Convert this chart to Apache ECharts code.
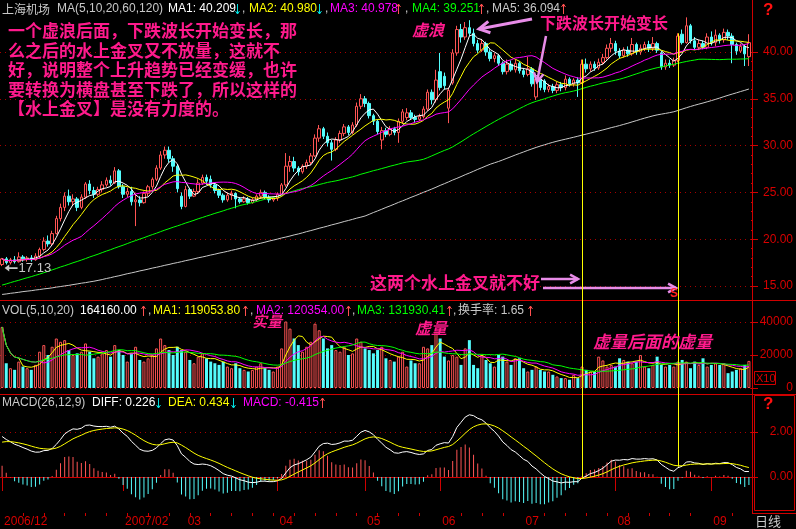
<!DOCTYPE html>
<html><head><meta charset="utf-8">
<script src="https://cdn.jsdelivr.net/npm/echarts@6/dist/echarts.min.js"></script>
<style>html,body{margin:0;padding:0;background:#000;}#c{width:796px;height:529px;}</style>
</head><body><div id="c"></div>
<script>
// ---------------- DATA ----------------
const monthLabels = ['2006/12','2007/02','03','04','05','06','07','08','09'];
const monthBarCounts = [29,15,22,21,18,20,22,23,10];
// [open, close, low, high]
const candles = [
[17.3,17.9,17.13,18.0],[17.9,17.5,17.3,18.1],[17.5,17.8,17.3,18.0],[17.8,17.6,17.4,18.2],[17.6,18.1,17.5,18.6],
[18.1,17.9,17.6,18.3],[17.9,18.0,17.6,18.2],[18.0,17.8,17.6,18.3],[17.8,18.2,17.7,18.5],[18.2,18.9,18.0,19.1],
[18.9,19.8,18.7,20.2],[19.8,19.5,19.2,20.4],[19.5,20.6,19.3,20.9],[20.6,22.2,20.5,22.5],[22.2,23.4,21.9,23.8],
[23.4,24.6,23.0,25.0],[24.6,24.0,23.6,25.3],[24.0,24.3,23.6,24.8],[24.3,23.4,23.0,24.5],[23.4,24.5,23.2,24.8],
[24.5,25.9,24.3,26.1],[25.9,25.2,24.8,26.3],[25.2,24.8,24.4,25.6],[24.8,25.3,24.6,25.6],[25.3,25.8,25.0,26.2],
[25.8,26.3,25.6,26.6],[26.3,26.0,25.7,26.8],[26.0,27.3,25.9,27.7],[27.3,25.6,25.4,27.5],[25.6,24.8,24.4,25.9],
[24.8,25.1,24.5,25.5],[25.1,24.0,23.6,25.6],[24.0,24.2,21.4,24.8],[24.2,23.9,23.5,24.6],[23.9,24.9,23.8,25.1],
[24.9,25.6,24.6,25.8],[25.6,26.4,25.3,26.6],[26.4,27.6,26.2,27.9],[27.6,29.0,27.4,29.4],[29.0,29.5,28.6,29.9],
[29.5,28.6,28.2,29.9],[28.6,27.8,27.2,28.9],[27.8,25.4,25.0,28.0],[24.6,23.5,23.2,25.0],[23.5,25.3,23.4,25.7],
[25.3,24.6,24.3,25.5],[24.6,25.1,24.5,25.4],[25.1,26.0,24.9,26.4],[26.0,26.6,25.8,26.9],[26.6,26.2,25.8,26.9],
[26.4,25.8,25.5,26.8],[25.8,25.2,24.9,26.0],[25.2,24.7,24.4,25.4],[24.7,24.2,23.9,24.9],[24.2,24.7,24.0,25.0],
[24.7,24.9,24.2,25.2],[24.9,24.3,23.3,25.0],[24.3,24.0,23.8,24.5],[24.0,24.3,23.9,24.6],[24.3,23.9,23.7,24.5],
[23.9,24.2,23.8,24.4],[24.2,24.6,24.0,24.8],[24.6,25.0,24.3,25.3],[25.0,24.5,24.3,25.2],[24.5,24.2,23.9,24.7],
[24.2,24.4,24.0,24.6],[24.4,24.8,24.1,25.0],[24.8,25.8,24.7,26.0],[25.8,27.8,25.6,29.2],[27.8,28.3,27.2,28.9],
[28.3,27.6,27.2,28.8],[27.6,27.2,26.8,27.8],[27.2,27.8,27.0,28.0],[27.8,28.2,27.5,28.5],[28.2,28.9,27.9,29.2],
[28.9,30.8,28.8,31.2],[30.8,31.8,30.4,32.2],[31.8,31.0,30.7,32.0],[31.0,30.3,29.9,31.4],[30.3,29.6,28.4,30.6],
[29.6,30.6,29.4,30.9],[30.6,31.3,30.3,31.6],[31.3,32.0,31.0,32.3],[32.0,31.4,31.1,32.2],[31.4,32.2,31.2,32.5],
[32.2,34.2,32.0,34.6],[34.2,35.0,33.9,35.5],[35.0,34.5,34.1,35.3],[34.5,33.2,32.9,34.7],[33.2,32.6,32.2,33.4],
[32.6,31.5,31.2,32.8],[30.6,31.6,29.6,32.0],[31.6,31.2,30.9,31.9],[31.2,31.8,31.0,32.1],[31.8,31.4,31.1,32.0],
[31.4,32.6,30.3,32.9],[32.6,33.6,32.3,33.9],[33.0,33.5,32.7,34.0],[33.5,33.0,32.8,33.8],[33.0,32.8,32.5,33.3],
[32.8,33.1,32.6,33.4],[33.1,33.9,32.9,34.2],[33.9,35.7,33.7,36.0],[35.7,34.9,34.4,36.0],[34.9,37.0,34.6,38.1],
[37.9,36.2,35.9,39.9],[37.4,36.4,36.0,37.8],[34.0,35.9,32.4,36.2],[36.7,39.9,36.5,40.3],[39.9,42.4,39.6,42.8],
[42.4,41.6,41.0,43.0],[41.6,42.6,41.3,43.2],[42.6,42.0,41.7,43.4],[42.0,40.9,40.6,42.5],[40.9,40.2,39.9,41.3],
[40.2,40.9,40.0,41.4],[40.9,40.0,39.6,41.1],[40.0,39.3,39.0,40.3],[39.3,39.6,38.9,39.9],[39.6,38.8,38.5,39.8],
[38.8,37.9,37.6,39.0],[37.9,38.7,37.6,39.2],[38.7,38.1,37.9,39.1],[38.1,38.8,37.8,39.2],[38.8,38.0,37.7,39.0],
[38.0,37.6,37.3,38.3],[37.6,38.2,37.4,39.5],[38.2,36.6,36.3,38.4],[35.2,37.1,34.9,37.4],[37.1,36.2,35.9,37.3],
[36.9,36.0,35.7,37.1],[36.0,36.3,35.7,36.6],[36.3,35.9,35.6,36.6],[35.9,36.5,35.6,36.8],[36.5,36.2,35.8,36.8],
[36.2,37.1,35.9,37.5],[37.1,36.6,36.3,37.3],[36.6,37.0,36.3,37.2],[37.0,36.7,35.2,37.3],[36.7,38.7,36.6,39.2],
[38.7,38.2,37.8,39.3],[38.2,38.7,37.9,39.0],[38.7,38.3,38.0,39.0],[38.3,38.9,38.1,39.3],[38.9,39.4,38.7,39.8],
[39.4,40.4,39.2,40.8],[40.4,40.9,40.0,41.5],[40.9,40.1,39.7,41.2],[40.1,39.6,39.3,40.4],[39.6,40.2,39.4,40.5],
[40.2,39.8,39.5,40.6],[39.8,40.8,39.6,41.5],[40.8,40.0,39.7,41.0],[40.0,40.4,39.7,40.8],[40.4,40.8,40.1,41.1],
[40.8,40.4,40.0,41.2],[40.4,40.9,40.1,41.6],[40.9,40.2,39.9,41.1],[39.9,38.4,38.1,40.1],[38.4,38.8,38.1,39.2],
[38.8,38.6,38.3,39.2],[38.6,39.1,38.4,39.4],[39.1,41.7,38.9,42.0],[41.9,41.0,40.8,42.4],[41.0,42.8,40.9,43.7],
[42.8,41.2,40.9,43.0],[41.2,40.5,40.2,41.6],[40.5,40.9,40.2,41.3],[40.9,40.5,40.3,41.2],[40.5,41.6,40.3,42.0],
[41.6,41.0,40.7,42.2],[41.0,41.8,40.6,42.4],[41.8,41.3,40.9,42.0],[41.3,42.1,41.0,42.5],[42.1,41.7,41.3,42.4],
[41.7,40.8,38.8,42.0],[40.8,40.1,39.7,41.0],[40.1,40.6,39.9,40.9],[40.6,39.8,38.5,40.8],[39.5,41.0,38.5,41.9]
];
const volumes = [
370000,150000,120000,110000,160000,130000,120000,110000,140000,
220000,260000,200000,250000,300000,280000,290000,
230000,200000,210000,220000,270000,220000,180000,190000,210000,230000,190000,260000,230000,
200000,160000,210000,250000,170000,160000,180000,200000,240000,300000,260000,230000,200000,250000,230000,220000,
170000,150000,190000,210000,180000,160000,150000,140000,160000,130000,120000,150000,120000,110000,100000,110000,130000,150000,120000,110000,100000,130000,
240000,420000,360000,300000,260000,220000,250000,280000,390000,350000,300000,240000,260000,
230000,220000,250000,200000,210000,300000,280000,240000,230000,210000,230000,250000,180000,170000,160000,
190000,220000,130000,167000,150000,150000,250000,240000,260000,340000,
300000,190000,167000,200000,190000,140000,240000,290000,140000,120000,
200000,170000,150000,130000,200000,190000,160000,140000,180000,180000,
120000,100000,110000,130000,110000,100000,100000,80000,70000,60000,
60000,50000,80000,60000,130000,110000,100000,100000,190000,167000,
130000,140000,130000,180000,170000,160000,150000,160000,200000,130000,
120000,140000,190000,140000,130000,140000,130000,160000,170000,160000,
120000,160000,140000,180000,130000,140000,150000,140000,150000,90000,
100000,110000,120000,140000,164160
];
// MA60 / MA120 values for bars before a full window exists
const ma60Lead = [
15.10,15.22,15.36,15.49,15.61,15.75,15.88,16.00,16.14,16.27,
16.42,16.56,16.72,16.87,17.03,17.17,17.32,17.48,17.62,17.77,
17.93,18.10,18.25,18.40,18.57,18.73,18.88,19.05,19.21,19.36,
19.53,19.70,19.85,20.01,20.16,20.33,20.49,20.64,20.81,20.97,
21.12,21.28,21.42,21.57,21.73,21.87,22.02,22.18,22.32,22.47,
22.61,22.76,22.89,23.03,23.18,23.31,23.45,23.60,23.70];
const ma120Lead = [
14.10,14.15,14.22,14.27,14.33,14.40,14.45,14.50,14.57,14.62,14.69,14.74,
14.80,14.88,14.94,15.01,15.07,15.15,15.22,15.30,15.36,15.44,15.51,15.60,
15.69,15.80,15.89,16.00,16.09,16.20,16.31,16.40,16.50,16.61,16.70,16.80,16.91,17.00,17.10,17.21,
17.30,17.41,17.50,17.60,17.71,17.80,17.90,18.01,18.10,18.20,18.31,18.40,18.51,18.60,18.70,18.81,
18.91,19.02,19.14,19.24,19.35,19.47,19.57,19.68,19.80,19.90,20.01,20.13,20.23,20.34,20.46,20.56,
20.68,20.81,20.92,21.04,21.17,21.28,21.40,21.53,21.64,21.76,21.89,22.00,22.12,22.25,22.36,22.48,
22.66,22.85,23.02,23.20,23.39,23.56,23.74,23.93,24.10,24.28,24.47,24.64,24.82,25.01,25.18,25.36,
25.55,25.75,25.93,26.12,26.32,26.50,26.69,26.89,27.07,27.26,27.46,27.64,27.83,28.01,28.16];
const macdSeed = {ema12: 17.5, ema26: 15.7, dea: 1.55};
const priceAxis = {min: 15, max: 40, step: 5};
const volAxis = {min: 0, max: 400000, step: 200000};
const macdAxis = {min: 0, max: 2, step: 2};
const crossBars = [139, 162];
const annotationLines = [
 '一个虚浪后面，下跌波长开始变长，那',
 '么之后的水上金叉又不放量，这就不',
 '好，说明整个上升趋势已经变缓，也许',
 '要转换为横盘甚至下跌了，所以这样的',
 '【水上金叉】是没有力度的。'];

// ---------------- DERIVED ----------------
const N = candles.length;
const categories = [], monthOf = [], isMonthStart = [];
monthLabels.forEach((m, mi) => { for (let d = 0; d < monthBarCounts[mi]; d++) { categories.push(m + '#' + (d + 1)); monthOf.push(m); isMonthStart.push(d === 0); } });
const closes = candles.map(c => c[1]);
function movAvg(arr, n, lead) {
  return arr.map((_, i) => {
    if (i < n - 1) { if (lead) return lead[i]; let t = 0; for (let k = 0; k <= i; k++) t += arr[k]; return t / (i + 1); }
    let t = 0; for (let k = i - n + 1; k <= i; k++) t += arr[k]; return t / n;
  });
}
const ma5 = movAvg(closes, 5), ma10 = movAvg(closes, 10), ma20 = movAvg(closes, 20);
const ma60 = movAvg(closes, 60, ma60Lead), ma120 = movAvg(closes, 120, ma120Lead);
const vma5 = movAvg(volumes, 5), vma10 = movAvg(volumes, 10), vma20 = movAvg(volumes, 20);
let e12 = macdSeed.ema12, e26 = macdSeed.ema26, dea = macdSeed.dea;
const diffArr = [], deaArr = [], histArr = [];
closes.forEach((c, i) => {
  if (i > 0) { e12 = e12 * 11 / 13 + c * 2 / 13; e26 = e26 * 25 / 27 + c * 2 / 27; }
  const d = e12 - e26;
  if (i > 0) dea = dea * 0.8 + d * 0.2;
  diffArr.push(d); deaArr.push(dea); histArr.push(2 * (d - dea));
});

// ---------------- STYLE ----------------
const RED = '#d00000', LRED = '#d80000', DOT = '#a80000';
const UP = '#ff5454', DN = '#54fcfc';
const FONT = '"Liberation Sans", Arial, sans-serif';
const CJK = '"Noto Sans CJK SC", sans-serif';

const chart = echarts.init(document.getElementById('c'));
function lineS(data, color, xi, yi, z) {
  return {type: 'line', data: data, xAxisIndex: xi, yAxisIndex: yi, symbol: 'none', showSymbol: false, clip: false, silent: true,
    lineStyle: {color: color, width: 1}, z: z || 3, animation: false};
}
function yAx(gi, ax, fmt, minor) {
  return {type: 'value', gridIndex: gi, position: 'right', min: ax.min, max: ax.max, interval: ax.step, scale: false,
    axisLine: {show: false}, axisTick: {show: true, length: 7, lineStyle: {color: RED}},
    minorTick: {show: !!minor, splitNumber: 5, length: 2, lineStyle: {color: RED}},
    splitLine: {show: true, lineStyle: {color: DOT, type: [1, 4], width: 1}},
    axisLabel: {color: LRED, fontSize: 12, fontFamily: FONT, align: 'right', margin: 42, formatter: fmt}};
}
const hiddenX = gi => ({type: 'category', gridIndex: gi, data: categories, boundaryGap: true, show: false});

const option = {
  backgroundColor: '#000', animation: false,
  grid: [
    {left: 0, right: 44, top: 52, height: 234},
    {left: 0, right: 44, top: 322, height: 66},
    {left: 0, right: 44, top: 432, height: 45}
  ],
  xAxis: [hiddenX(0), hiddenX(1),
    {type: 'category', gridIndex: 2, data: categories, boundaryGap: true, position: 'bottom', offset: 36,
     axisLine: {show: true, lineStyle: {color: RED, width: 1}},
     axisTick: {show: true, alignWithLabel: true, length: 14, interval: (i) => isMonthStart[i], lineStyle: {color: RED}},
     axisLabel: {show: true, interval: (i) => isMonthStart[i], formatter: (v, i) => monthOf[i], align: 'left', margin: 3,
       padding: [0, 0, 0, 2], color: LRED, fontSize: 12, fontFamily: FONT},
     splitLine: {show: false}},
    {type: 'category', gridIndex: 2, data: categories, boundaryGap: true, position: 'bottom', offset: 36,
     axisLine: {show: false}, axisLabel: {show: false}, splitLine: {show: false},
     axisTick: {show: true, alignWithLabel: true, length: 3, interval: (i) => i % 5 === 0 && !isMonthStart[i], lineStyle: {color: RED}}}
  ],
  yAxis: [
    yAx(0, priceAxis, v => v.toFixed(2), true),
    yAx(1, volAxis, v => String(v / 10)),
    yAx(2, macdAxis, v => v.toFixed(2))
  ],
  series: [
    {type: 'candlestick', data: candles, xAxisIndex: 0, yAxisIndex: 0, barWidth: 3, clip: false, silent: true, z: 2,
     itemStyle: {color: '#000', color0: DN, borderColor: UP, borderColor0: DN, borderWidth: 1},
     markPoint: {silent: true, animation: false, data: [
       {type: 'max', valueDim: 'highest', symbol: 'path://M0,0 L5,0.6 L3.3,2.1 L14,8.2 L13.3,9 L2.5,2.9 L1,5 Z',
        symbolSize: [14, 9], symbolOffset: [7, 4.5], itemStyle: {color: '#c8c8c8'},
        label: {show: true, position: 'right', distance: 1, formatter: p => p.value.toFixed(2), color: '#c8c8c8', fontSize: 13, fontFamily: FONT, offset: [0, 1]}},
       {type: 'min', valueDim: 'lowest', symbol: 'path://M0,4 L5,0 L5,3 L14,3 L14,5 L5,5 L5,8 Z',
        symbolSize: [13, 7], symbolOffset: [9, 2], itemStyle: {color: '#c8c8c8'},
        label: {show: true, position: 'right', distance: 1, formatter: p => p.value.toFixed(2), color: '#c8c8c8', fontSize: 13, fontFamily: FONT}}
     ]}},
    lineS(ma5, '#ffffff', 0, 0, 5), lineS(ma10, '#ffff00', 0, 0, 5), lineS(ma20, '#ff00ff', 0, 0, 5),
    lineS(ma60, '#00ff00', 0, 0, 4), lineS(ma120, '#c8c8c8', 0, 0, 4),
    {type: 'bar', xAxisIndex: 1, yAxisIndex: 1, barWidth: 3, silent: true, z: 2,
     data: volumes.map((v, i) => ({value: v, itemStyle: candles[i][1] >= candles[i][0]
       ? {color: '#000', borderColor: UP, borderWidth: 1} : {color: DN, borderWidth: 0}}))},
    lineS(vma5, '#ffff00', 1, 1), lineS(vma10, '#ff00ff', 1, 1), lineS(vma20, '#00ff00', 1, 1),
    {type: 'bar', xAxisIndex: 2, yAxisIndex: 2, barWidth: 1, clip: false, silent: true, z: 2,
     data: histArr.map(v => ({value: v, itemStyle: {color: v >= 0 ? UP : DN}}))},
    lineS(diffArr, '#ffffff', 2, 2), lineS(deaArr, '#ffff00', 2, 2)
  ]
};
chart.setOption(option);

// ---------------- ANNOTATIONS (graphic) ----------------
const G = [];
function txt(text, x, y, color, font, extra) {
  G.push(Object.assign({type: 'text', silent: true, z: 50, x: x, y: y,
    style: {text: text, fill: color, font: font, textAlign: 'left', textVerticalAlign: 'middle', align: 'left', verticalAlign: 'middle'}}, extra || {}));
}
function seg(x1, y1, x2, y2, color, w) {
  G.push({type: 'line', silent: true, z: 40, shape: {x1: x1, y1: y1, x2: x2, y2: y2}, style: {stroke: color, lineWidth: w || 1}});
}
function poly(points, color, w) {
  G.push({type: 'polyline', silent: true, z: 40, shape: {points: points}, style: {stroke: color, lineWidth: w || 1, fill: null}});
}
function arrow(x1, y1, x2, y2, color, w, head) {
  seg(x1, y1, x2, y2, color, w);
  const a = Math.atan2(y2 - y1, x2 - x1), s = 0.5;
  poly([[x2 - head * Math.cos(a - s), y2 - head * Math.sin(a - s)], [x2, y2], [x2 - head * Math.cos(a + s), y2 - head * Math.sin(a + s)]], color, w);
}
function updn(x, yc, up) {
  const c = up ? '#ff5050' : '#00e0e0';
  seg(x + 0.5, yc - 5, x + 0.5, yc + 5, c, 1);
  if (up) poly([[x - 1.5, yc - 2], [x + 0.5, yc - 5], [x + 2.5, yc - 2]], c, 1);
  else poly([[x - 1.5, yc + 2], [x + 0.5, yc + 5], [x + 2.5, yc + 2]], c, 1);
}
const HF = '12px ' + FONT, GREY = '#c8c8c8';
// main header
let hy = 9;
txt('上海机场', 2, hy, GREY, '12px ' + CJK);
txt('MA(5,10,20,60,120)', 57, hy, GREY, HF);
txt('MA1: 40.209', 168, hy, '#ffffff', HF); updn(237, hy, false); txt(',', 242, hy, GREY, HF);
txt('MA2: 40.980', 249, hy, '#ffff00', HF); updn(319, hy, false); txt(',', 325, hy, GREY, HF);
txt('MA3: 40.978', 330, hy, '#ff00ff', HF); updn(398, hy, true); txt(',', 405, hy, GREY, HF);
txt('MA4: 39.251', 412, hy, '#00ff00', HF); updn(481, hy, true); txt(',', 486, hy, GREY, HF);
txt('MA5: 36.094', 492, hy, GREY, HF); updn(563, hy, true);
// volume header
hy = 311;
txt('VOL(5,10,20)', 2, hy, GREY, HF);
txt('164160.00', 80, hy, '#ffffff', HF); updn(143, hy, true); txt(',', 148, hy, GREY, HF);
txt('MA1: 119053.80', 153, hy, '#ffff00', HF); updn(245, hy, true); txt(',', 250, hy, GREY, HF);
txt('MA2: 120354.00', 256, hy, '#ff00ff', HF); updn(348, hy, true); txt(',', 352, hy, GREY, HF);
txt('MA3: 131930.41', 357, hy, '#00ff00', HF); updn(449, hy, true); txt(',', 453, hy, GREY, HF);
txt('换手率: 1.65', 458, hy, GREY, '12px ' + FONT + ',' + CJK); updn(530, hy, true);
// macd header
hy = 403;
txt('MACD(26,12,9)', 2, hy, GREY, HF);
txt('DIFF: 0.226', 92, hy, '#ffffff', HF); updn(158, hy, false);
txt('DEA: 0.434', 168, hy, '#ffff00', HF); updn(233, hy, false);
txt('MACD: -0.415', 243, hy, '#ff00ff', HF); updn(322, hy, true);

// panel frame lines
seg(752.5, 0, 752.5, 513, RED, 1);
seg(0, 300.5, 796, 300.5, RED, 1);
seg(0, 394.5, 796, 394.5, RED, 1);
seg(752, 513.5, 796, 513.5, RED, 1);
G.push({type: 'rect', silent: true, z: 40, shape: {x: 754.5, y: 395.5, width: 40, height: 115}, style: {stroke: RED, fill: null, lineWidth: 1}});
G.push({type: 'rect', silent: true, z: 40, shape: {x: 754.5, y: 371.5, width: 21, height: 13}, style: {stroke: RED, fill: '#000', lineWidth: 1}});
txt('X10', 756, 378.5, LRED, '11px ' + FONT);
txt('?', 763, 10, '#ff1010', 'bold 17px ' + FONT);
txt('?', 763, 404, '#ff1010', 'bold 17px ' + FONT);
txt('日线', 755, 521, GREY, '13px ' + CJK);

// pink commentary
const PINK = '#ff1a8c', VIO = '#e88ce8';
annotationLines.forEach((l, k) => txt(l, 8, 31 + k * 19.5, PINK, 'bold 17px ' + CJK));
txt('虚浪', 412, 30, PINK, 'italic bold 16px ' + CJK);
txt('下跌波长开始变长', 540, 23, PINK, 'bold 16px ' + CJK);
txt('这两个水上金叉就不好', 370, 283, PINK, 'bold 17px ' + CJK);
txt('实量', 252, 321, PINK, 'italic bold 15px ' + CJK);
txt('虚量', 415, 328, PINK, 'italic bold 16px ' + CJK);
txt('虚量后面的虚量', 593, 342, PINK, 'italic bold 17px ' + CJK);
arrow(532, 19, 479, 29, VIO, 3, 12);
arrow(546, 36, 537, 82, VIO, 2.5, 10);
arrow(541, 279, 578, 279, VIO, 2.5, 9);
arrow(543, 288, 676, 288, VIO, 2.5, 9);
txt('S', 670, 294, '#ff2020', 'bold 12px ' + FONT);

// vertical marker lines at the two crosses (via library scales)
crossBars.forEach(idx => {
  const x = Math.round(chart.convertToPixel({xAxisIndex: 0}, idx)) + 0.5;
  const yTop = chart.convertToPixel({yAxisIndex: 0}, candles[idx][3]);
  const yBot = chart.convertToPixel({yAxisIndex: 2}, (diffArr[idx] + deaArr[idx]) / 2);
  seg(x, yTop, x, yBot, '#ffff00', 1);
});
chart.setOption({graphic: {elements: G}});
</script></body></html>
